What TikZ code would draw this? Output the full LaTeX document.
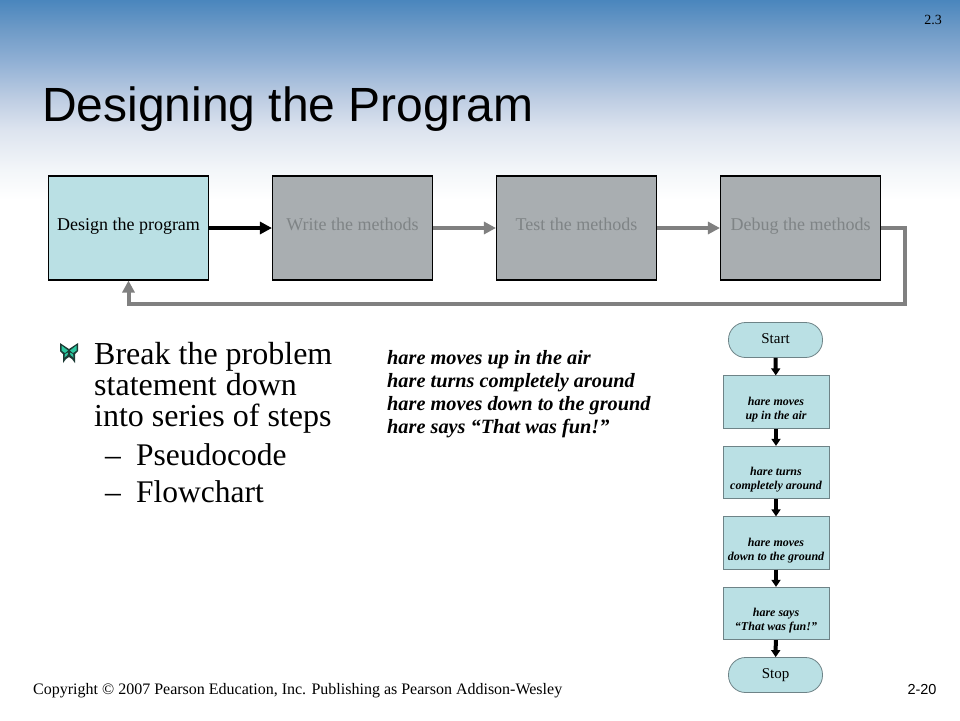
\documentclass[tikz,border=0pt]{standalone}
\usepackage{fontspec}
\setmainfont{Liberation Serif}
\setsansfont{Liberation Sans}
\usetikzlibrary{arrows.meta,positioning}
\definecolor{boxblue}{HTML}{BAE0E4}
\definecolor{boxgrey}{HTML}{A9AEB1}
\definecolor{txtgrey}{HTML}{7F8486}
\definecolor{linegrey}{HTML}{808080}
\definecolor{chartedge}{HTML}{6E8387}
\definecolor{wingdark}{HTML}{1C3A34}
\definecolor{wingteal}{HTML}{2CC8A0}
\definecolor{skya}{HTML}{FFFFFF}
\definecolor{skyb}{HTML}{F3F6F9}
\definecolor{skyc}{HTML}{DDE4EF}
\definecolor{skyd}{HTML}{BFCEE3}
\definecolor{skye}{HTML}{8FAFD4}
\definecolor{skyf}{HTML}{6F9BC7}
\definecolor{skyg}{HTML}{4A86BD}
\pgfdeclareverticalshading{sky}{100bp}{
  color(0bp)=(skya);
  color(25bp)=(skya);
  color(32.5bp)=(skyb);
  color(42.5bp)=(skyc);
  color(50bp)=(skyd);
  color(60bp)=(skye);
  color(67.5bp)=(skyf);
  color(75bp)=(skyg);
  color(100bp)=(skyg)}
\newcommand{\stagelabel}[1]{\smash{\raisebox{-2pt}{#1}}}
\newcommand{\termlabel}[1]{\smash{\raisebox{-3pt}{#1}}}
\newcommand{\chartlabel}[2]{\smash{\raisebox{-17pt}{\begin{tabular}[b]{@{}c@{}}#1\\#2\end{tabular}}}}
\tikzset{
  x=1pt,y=-1pt,
  stage/.style={draw=black,line width=1.1pt,minimum width=160pt,minimum height=104pt,inner sep=0pt,font=\fontsize{18}{20}\selectfont},
  stageon/.style={stage,fill=boxblue,text=black},
  stageoff/.style={stage,fill=boxgrey,text=txtgrey},
  liveflow/.style={line width=4pt,black,-{Triangle[length=12pt,width=12pt]}},
  idleflow/.style={line width=4pt,linegrey,-{Triangle[length=12pt,width=12pt]}},
  chartbox/.style={draw=chartedge,line width=.8pt,fill=boxblue,minimum width=106pt,minimum height=52.5pt,inner sep=0pt,font=\fontsize{12}{14}\selectfont\bfseries\itshape},
  chartend/.style={draw=chartedge,line width=.8pt,fill=boxblue,rounded corners=17pt,minimum width=94pt,minimum height=35pt,inner sep=0pt,font=\fontsize{15}{17}\selectfont},
  chartflow/.style={line width=4pt,black,-{Triangle[length=7pt,width=9pt]}},
  body/.style={anchor=west,inner sep=0pt,align=left,font=\fontsize{32}{31}\selectfont},
  subitem/.style={anchor=base west,inner sep=0pt,font=\fontsize{31.5}{34}\selectfont},
  pseudo/.style={anchor=west,inner sep=0pt,align=left,font=\fontsize{20.3}{23}\selectfont\bfseries\itshape},
}
\begin{document}
\begin{tikzpicture}
\useasboundingbox (0,0) rectangle (960,720);
\fill[white] (0,0) rectangle (960,720);
\shade[shading=sky] (0,0) rectangle (960,200);
\node[anchor=west,inner sep=0pt,font=\sffamily\fontsize{48}{50}\selectfont] (title) at (42,109) {Designing the Program};
\node[inner sep=0pt,font=\fontsize{14}{15}\selectfont] (sect) at (933,20) {2.3};
% process row
\node[stageon] (design) at (128.5,228) {\stagelabel{Design the program}};
\node[stageoff] (write) at (352.5,228) {\stagelabel{Write the methods}};
\node[stageoff] (test) at (576.5,228) {\stagelabel{Test the methods}};
\node[stageoff] (debug) at (800.5,228) {\stagelabel{Debug the methods}};
\draw[liveflow] (design) -- (write);
\draw[idleflow] (write) -- (test);
\draw[idleflow] (test) -- (debug);
\coordinate (loopa) at (904.5,228);
\coordinate (loopb) at (904.5,304);
\coordinate (loopc) at (128.5,304);
\draw[idleflow] (debug.east) -- (loopa) -- (loopb) -- (loopc) -- (design.south);
% butterfly bullet
\begin{scope}[shift={(69,353)}]
  \fill[wingdark] (0,-4) -- (-9,-10) -- (-9,-2) -- (-6,1) -- (-6,6) -- (-6,10) -- (-3,6) -- (0,4) -- (3,6) -- (6,10) -- (6,6) -- (6,1) -- (9,-2) -- (9,-10) -- cycle;
  \fill[wingteal] (-1,-2.5) -- (-7.5,-7.5) -- (-7.5,-2.5) -- (-4,0) -- cycle;
  \fill[wingteal] (1,-2.5) -- (7.5,-7.5) -- (7.5,-2.5) -- (4,0) -- cycle;
  \fill[wingteal] (-1,-.5) -- (-4,1) -- (-4.5,4.5) -- (-1.5,2) -- cycle;
  \fill[wingteal] (1,-.5) -- (4,1) -- (4.5,4.5) -- (1.5,2) -- cycle;
\end{scope}
% bullets
\node[body] (point) at (94,387.5) {Break the problem\\statement\hspace{1pt} down\\into series of steps};
\node[subitem] (dasha) at (105,465) {–};
\node[subitem] (pcode) at (136,465) {Pseudocode};
\node[subitem] (dashb) at (105,502) {–};
\node[subitem] (fchart) at (136,502) {Flowchart};
% pseudocode
\node[pseudo] (code) at (387,394.5) {hare moves up in the air\\hare turns completely around\\hare moves down to the ground\\hare says “That was fun!”};
% flowchart
\node[chartend] (start) at (775.5,340) {\termlabel{Start}};
\node[chartbox] (b1) at (776,402) {\chartlabel{hare moves}{up in the air}};
\node[chartbox] (b2) at (776,472.5) {\chartlabel{hare turns}{completely around}};
\node[chartbox] (b3) at (776,543) {\chartlabel{hare moves}{down to the ground}};
\node[chartbox] (b4) at (776,613.5) {\chartlabel{hare says}{“That was fun!”}};
\node[chartend] (stop) at (775.5,675) {\termlabel{Stop}};
\draw[chartflow] (start) -- (b1);
\draw[chartflow] (b1) -- (b2);
\draw[chartflow] (b2) -- (b3);
\draw[chartflow] (b3) -- (b4);
\draw[chartflow] (b4) -- (stop);
% footer
\node[anchor=west,inner sep=0pt,font=\fontsize{16}{18}\selectfont] (copy) at (33,690.5) {Copyright © 2007 Pearson Education, Inc. Publishing as Pearson Addison-Wesley};
\node[inner sep=0pt,font=\sffamily\fontsize{14.5}{16}\selectfont] (page) at (922,689.5) {2-20};
\end{tikzpicture}
\end{document}
